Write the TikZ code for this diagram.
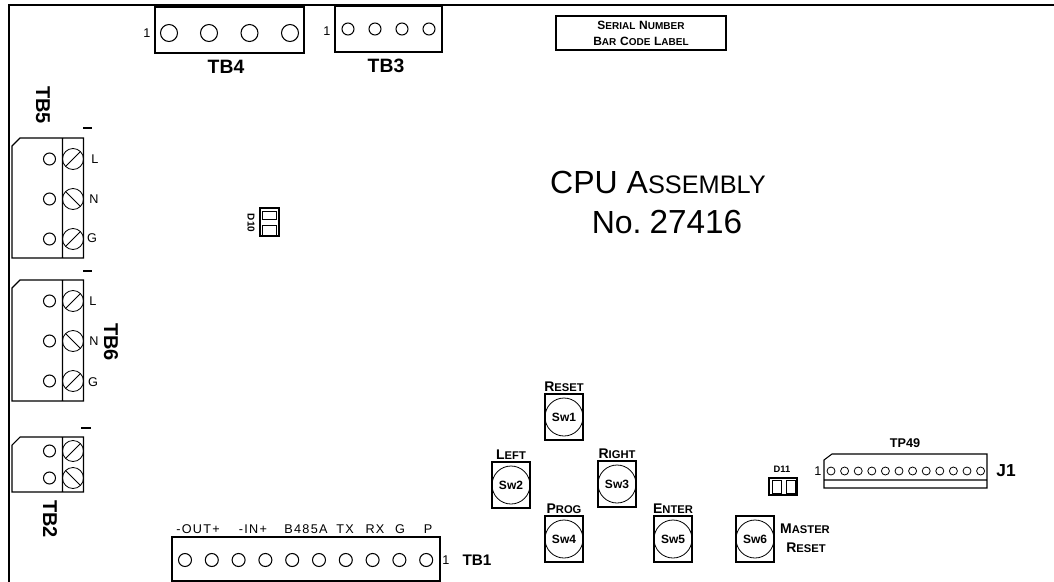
\documentclass[tikz,border=0pt]{standalone}
\usepackage{fontspec}
\setmainfont{Liberation Sans}
\newfontfamily\pinfont[LetterSpace=10]{Liberation Sans}
\newcommand{\lowcap}[2]{{\fontsize{10.5}{12}\selectfont #1}{\fontsize{8.4}{10}\selectfont #2}}
\newcommand{\barcap}[2]{{\fontsize{9}{11}\selectfont #1}{\fontsize{7.5}{9}\selectfont #2}}
\newcommand{\titlecap}[2]{{\fontsize{24}{26}\selectfont #1}{\fontsize{19}{21}\selectfont #2}}
\tikzset{
	pcb/.style={line width=0.8pt},
	thin pcb/.style={line width=0.6pt},
	tblabel/.style={font=\bfseries\fontsize{14.5}{16}\selectfont,inner sep=0pt},
	sidelabel/.style={tblabel,rotate=-90,font=\bfseries\fontsize{15}{16}\selectfont},
	pinlabel/.style={font=\fontsize{9.5}{11}\selectfont,inner sep=0pt},
	rowlabel/.style={font=\pinfont\fontsize{9.5}{11}\selectfont,inner sep=0pt},
	swlabel/.style={font=\bfseries\fontsize{9}{10}\selectfont,inner sep=0pt},
	caplabel/.style={font=\bfseries,inner sep=0pt}
}
\begin{document}
\begin{tikzpicture}[x=0.75pt,y=-0.75pt]
	\useasboundingbox (0,0) rectangle (1054,582);
	\draw[pcb] (9,582)--(9,5)--(1054,5);
	% side terminal blocks
	\draw[pcb] (12,258)--(12,146)--(20,138)--(83.5,138)--(83.5,258)--cycle (62.5,138)--(62.5,258);
	\draw[pcb] (12,401)--(12,288)--(20,280)--(83.5,280)--(83.5,401)--cycle (62.5,280)--(62.5,401);
	\draw[pcb] (12,492)--(12,445)--(20,437)--(83.5,437)--(83.5,492)--cycle (62.5,437)--(62.5,492);
	\foreach \y/\a in {159/-45,199/45,239/-45,301/-45,341/45,381/-45,451/-45,478/45}{
		\draw[pcb] (49.5,\y) circle[radius=6];
		\draw[thin pcb] (73,\y) circle[radius=10.5];
		\draw[thin pcb] (73,\y) ++(\a:10.5) -- ++(\a+180:21);
	}
	\foreach \y/\a/\b in {128/83/92,271/83/92,428/81/91}
		\draw[line width=1pt] (\a,\y)--(\b,\y);
	\foreach \x/\y/\t [count=\i] in {95/159/L,94/199/N,92/238/G,93/301/L,94/341/N,93/382/G}
		\node[pinlabel] (side\i) at (\x,\y) {\t};
	\node[sidelabel] (tbfive) at (43,105) {TB5};
	\node[sidelabel] (tbsix) at (111,342) {TB6};
	\node[sidelabel] (tbtwo) at (50,519) {TB2};
	% top terminal blocks
	\draw[pcb] (155,7) rectangle (304,53);
	\foreach \x in {169,209,249.5,290}
		\draw[pcb] (\x,33) circle[radius=8.5];
	\node[pinlabel] (onefour) at (147,33) {1};
	\node[tblabel] (tbfour) at (226,67) {TB4};
	\draw[pcb] (335,6) rectangle (442,52);
	\foreach \x in {348,375,402,429}
		\draw[pcb] (\x,29) circle[radius=6];
	\node[pinlabel] (onethree) at (327,31) {1};
	\node[tblabel] (tbthree) at (386,66) {TB3};
	% serial label and title
	\draw[pcb] (556,16) rectangle (726,50);
	\node[caplabel] (serial) at (641,25) {\barcap{S}{ERIAL} \barcap{N}{UMBER}};
	\node[caplabel] (barcode) at (641,41) {\barcap{B}{AR} \barcap{C}{ODE} \barcap{L}{ABEL}};
	\node[inner sep=0pt] (title) at (658,182) {\titlecap{CPU A}{SSEMBLY}};
	\node[inner sep=0pt] (number) at (667,222) {\titlecap{No.}{}\hspace{6pt}{\fontsize{25}{26}\selectfont 27416}};
	% diodes
	\draw[pcb] (260,208) rectangle (279,236);
	\draw[thin pcb] (262,211) rectangle (276,219) (262,225) rectangle (276,235);
	\node[swlabel,rotate=-90,font=\bfseries\fontsize{7.5}{8}\selectfont] (dten) at (251,223) {D10};
	\draw[pcb] (769,478) rectangle (797,495);
	\draw[thin pcb] (772,480) rectangle (781,493) (786,480) rectangle (795,493);
	\node[swlabel,font=\bfseries\fontsize{7}{8}\selectfont] (deleven) at (782,469) {D11};
	% bottom terminal block
	\draw[pcb] (172,582)--(172,537)--(440,537)--(440,582);
	\draw[pcb] (172,581)--(440,581);
	\foreach \i in {0,...,9}
		\draw[pcb] ({185+\i*26.8},560) circle[radius=6.5];
	\foreach \x/\t [count=\i] in {198/{-OUT+},253/{-IN+},306/B485A,345/TX,375/RX,400/G,428/P}
		\node[rowlabel] (pin\i) at (\x,529) {\t};
	\node[pinlabel] (oneone) at (446,560) {1};
	\node[tblabel,font=\bfseries\fontsize{11.5}{13}\selectfont] (tbone) at (477,560) {TB1};
	% switches
	\foreach \x/\y/\t in {564/417/Sw1,511/485/Sw2,617/484/Sw3,564/539/Sw4,673/539/Sw5,755/539/Sw6}{
		\draw[pcb] (\x-19,\y-23) rectangle (\x+19,\y+23);
		\draw[thin pcb] (\x,\y) circle[radius=19];
		\node[swlabel] (\t) at (\x,\y) {\t};
	}
	\node[caplabel] (reset) at (564,387) {\lowcap{R}{ESET}};
	\node[caplabel] (left) at (511,455) {\lowcap{L}{EFT}};
	\node[caplabel] (right) at (617,454) {\lowcap{R}{IGHT}};
	\node[caplabel] (prog) at (564,509) {\lowcap{P}{ROG}};
	\node[caplabel] (enter) at (673,509) {\lowcap{E}{NTER}};
	\node[caplabel] (master) at (805,529) {\lowcap{M}{ASTER}};
	\node[caplabel] (mreset) at (806,548) {\lowcap{R}{ESET}};
	% header J1
	\draw[pcb] (824,488)--(824,460)--(832,454)--(987,454)--(987,488)--cycle (824,480)--(987,480);
	\foreach \i in {0,...,11}
		\draw[thin pcb] ({831+\i*13.6},471) circle[radius=4];
	\node[pinlabel] (onetp) at (818,471) {1};
	\node[swlabel,font=\bfseries\fontsize{9.5}{11}\selectfont] (tpnine) at (905,443) {TP49};
	\node[tblabel,font=\bfseries\fontsize{13}{14}\selectfont] (jone) at (1006,471) {J1};
\end{tikzpicture}
\end{document}
